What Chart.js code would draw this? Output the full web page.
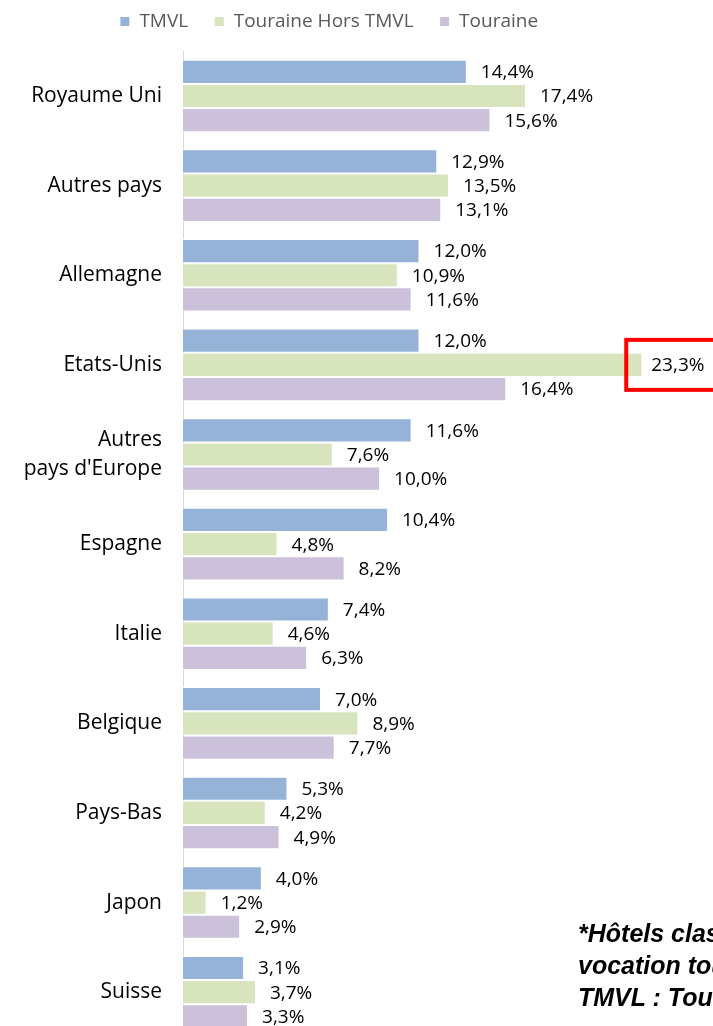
<!DOCTYPE html>
<html>
<head>
<meta charset="utf-8">
<script src="https://cdn.jsdelivr.net/npm/chart.js@4/dist/chart.umd.min.js"></script>
<style>
    html, body { margin: 0; padding: 0; background: #fff; overflow: hidden; }
    #wrap { position: relative; width: 713px; height: 1040px; }
    #note {
        position: absolute; left: 578px; top: 917px; white-space: nowrap;
        font-family: "Liberation Sans", Arial, sans-serif; font-weight: bold; font-style: italic;
        font-size: 25px; line-height: 32px; color: #000;
    }
</style>
</head>
<body>
<div id="wrap">
    <canvas id="paysOrigine" width="713" height="1040"></canvas>
    <div id="note">*Hôtels classés et non classés à<br>vocation touristique<br>TMVL : Tours Métropole Val de Loire</div>
</div>
<script>
// Répartition des nuitées étrangères par pays d'origine
const pays = ['Royaume Uni', 'Autres pays', 'Allemagne', 'Etats-Unis', ['Autres', "pays d'Europe"],
    'Espagne', 'Italie', 'Belgique', 'Pays-Bas', 'Japon', 'Suisse'];
const tmvl = [14.4, 12.9, 12.0, 12.0, 11.6, 10.4, 7.4, 7.0, 5.3, 4.0, 3.1];
const horsTmvl = [17.4, 13.5, 10.9, 23.3, 7.6, 4.8, 4.6, 8.9, 4.2, 1.2, 3.7];
const touraine = [15.6, 13.1, 11.6, 16.4, 10.0, 8.2, 6.3, 7.7, 4.9, 2.9, 3.3];

// étiquettes de valeur + encadré rouge sur le max
const etiquettes = {
    id: 'etiquettes',
    afterDatasetsDraw(chart) {
        const ctx = chart.ctx;
        ctx.save();
        ctx.font = '19px "Open Sans"';
        ctx.fillStyle = '#000';
        ctx.textBaseline = 'middle';
        chart.data.datasets.forEach((ds, i) => {
            chart.getDatasetMeta(i).data.forEach((bar, j) => {
                const txt = ds.data[j].toFixed(1).replace('.', ',') + '%';
                let x = bar.x + 14;
                if (ds.encadre === j) x = bar.x + 9;
                ctx.fillText(txt, x, bar.y + 1);
                if (ds.encadre === j) {
                    ctx.strokeStyle = '#ff0000';
                    ctx.lineWidth = 4;
                    ctx.strokeRect(x - 25, bar.y - 25, 92, 50);
                }
            });
        });
        ctx.restore();
    }
};

const ctxPays = document.getElementById('paysOrigine').getContext('2d');
new Chart(ctxPays, {
    type: 'bar',
    data: {
        labels: pays,
        datasets: [{
            label: 'TMVL',
            data: tmvl,
            backgroundColor: '#95b3d7',
            borderColor: '#ffffff',
            borderWidth: 1
        }, {
            label: 'Touraine Hors TMVL',
            data: horsTmvl,
            backgroundColor: '#d7e4bd',
            borderColor: '#ffffff',
            borderWidth: 1,
            encadre: 3
        }, {
            label: 'Touraine',
            data: touraine,
            backgroundColor: '#ccc1da',
            borderColor: '#ffffff',
            borderWidth: 1
        }]
    },
    options: {
        indexAxis: 'y',
        responsive: false,
        animation: false,
        layout: { padding: { top: -14, right: 55, bottom: 3, left: 0 } },
        categoryPercentage: 0.81,
        barPercentage: 1,
        plugins: {
            legend: {
                position: 'top',
                labels: {
                    boxWidth: 10,
                    boxHeight: 10,
                    padding: 26,
                    color: '#595959',
                    font: { family: 'Open Sans', size: 19 }
                }
            },
            // boîte vide pour l'espace entre légende et barres
            title: {
                display: true,
                text: '',
                weight: 100,
                font: { size: 1 },
                padding: { top: 0, bottom: 9 }
            },
            tooltip: { enabled: false }
        },
        scales: {
            x: {
                display: false,
                min: 0,
                max: 24.1
            },
            y: {
                grid: { display: false },
                border: { color: '#d9d9d9', width: 1 },
                afterFit(axis) {
                    axis.width = 183;
                    axis.paddingTop = 0;
                    axis.paddingBottom = 0;
                },
                ticks: {
                    color: '#000',
                    padding: 13,
                    font: { family: 'Open Sans', size: 21, lineHeight: 1.35 }
                }
            }
        }
    },
    plugins: [etiquettes]
});
</script>
</body>
</html>
